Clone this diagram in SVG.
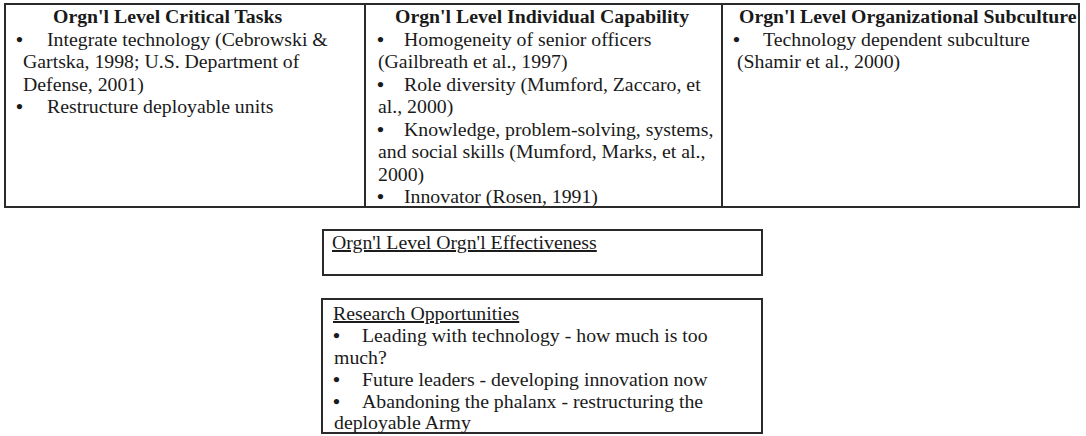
<svg xmlns="http://www.w3.org/2000/svg" width="1086" height="436" viewBox="0 0 1086 436">
<style>
.box{fill:#fff;stroke:#2a2a2a;stroke-width:2}
text{font-family:"Liberation Serif","Times New Roman",serif;fill:#1a1a1a;font-size:19.8px}
.t{font-weight:bold}
.u{text-decoration:underline}
.b{font-weight:bold}
</style>
<rect width="1086" height="436" fill="#fff"/>
<g id="critical-tasks">
<rect class="box" x="5" y="4" width="360" height="203"/>
<text class="t" x="53" y="23">Orgn'l Level Critical Tasks</text>
<text y="45.5"><tspan class="b" x="16">•</tspan><tspan x="47">Integrate technology (Cebrowski &amp;</tspan></text>
<text x="23" y="68">Gartska, 1998; U.S. Department of</text>
<text x="23" y="90.5">Defense, 2001)</text>
<text y="113"><tspan class="b" x="16">•</tspan><tspan x="47">Restructure deployable units</tspan></text>
</g>
<g id="individual-capability">
<rect class="box" x="365" y="4" width="357" height="203"/>
<text class="t" x="395" y="23">Orgn'l Level Individual Capability</text>
<text y="45.5"><tspan class="b" x="377">•</tspan><tspan x="404">Homogeneity of senior officers</tspan></text>
<text x="378" y="68">(Gailbreath et al., 1997)</text>
<text y="90.5"><tspan class="b" x="377">•</tspan><tspan x="404">Role diversity (Mumford, Zaccaro, et</tspan></text>
<text x="378" y="113">al., 2000)</text>
<text y="135.5"><tspan class="b" x="377">•</tspan><tspan x="404">Knowledge, problem-solving, systems,</tspan></text>
<text x="378" y="158">and social skills (Mumford, Marks, et al.,</text>
<text x="378" y="180.5">2000)</text>
<text y="203"><tspan class="b" x="377">•</tspan><tspan x="404">Innovator (Rosen, 1991)</tspan></text>
</g>
<g id="organizational-subculture">
<rect class="box" x="722" y="4" width="357" height="203"/>
<text class="t" x="739" y="23">Orgn'l Level Organizational Subculture</text>
<text y="45.5"><tspan class="b" x="733">•</tspan><tspan x="763">Technology dependent subculture</tspan></text>
<text x="737" y="68">(Shamir et al., 2000)</text>
</g>
<g id="effectiveness">
<rect class="box" x="323" y="230" width="439" height="45"/>
<text class="u" x="332" y="249">Orgn'l Level Orgn'l Effectiveness</text>
</g>
<g id="research-opportunities">
<rect class="box" x="322" y="299" width="440" height="134"/>
<text class="u" x="333" y="320">Research Opportunities</text>
<text y="342"><tspan class="b" x="333">•</tspan><tspan x="362">Leading with technology - how much is too</tspan></text>
<text x="334" y="364">much?</text>
<text y="386"><tspan class="b" x="333">•</tspan><tspan x="362">Future leaders - developing innovation now</tspan></text>
<text y="408"><tspan class="b" x="333">•</tspan><tspan x="362">Abandoning the phalanx - restructuring the</tspan></text>
<text x="334" y="429">deployable Army</text>
</g>
<g id="connectors"></g>
</svg>
